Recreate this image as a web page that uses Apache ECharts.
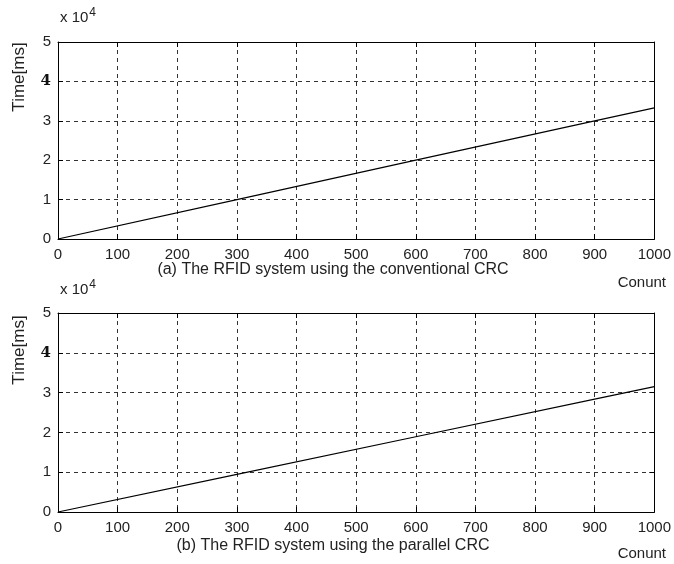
<!DOCTYPE html>
<html>
<head>
<meta charset="utf-8">
<script src="https://cdn.jsdelivr.net/npm/echarts@6/dist/echarts.min.js"></script>
<style>html,body{margin:0;padding:0;background:#fff;}#c{width:674px;height:564px;}</style>
</head>
<body>
<div id="c"></div>
<script>
var countA = [0, 300, 600, 900, 1000];
var timeA = [0, 10000, 20000, 30000, 33300];
var countB = [0, 300, 600, 900, 1000];
var timeB = [0, 9450, 18900, 28350, 31500];
var xTicks = [0, 100, 200, 300, 400, 500, 600, 700, 800, 900, 1000];
var yTicks = [0, 1, 2, 3, 4, 5];
var captionA = '(a) The RFID system using the conventional CRC';
var captionB = '(b) The RFID system using the parallel CRC';
var xName = 'Conunt';
var yName = 'Time[ms]';

var FONT = 'Liberation Sans, Arial, sans-serif';
var chart = echarts.init(document.getElementById('c'), null, {renderer: 'canvas'});

function xAx(gi, pos, labels) {
  return {
    gridIndex: gi, type: 'value', position: pos, min: 0, max: 1000, interval: 100,
    axisLine: {show: true, onZero: false, lineStyle: {color: '#000', width: 1}},
    axisTick: {show: true, inside: true, length: 5, lineStyle: {color: '#000'}},
    axisLabel: {show: labels, color: '#222', fontSize: 15, fontFamily: FONT, margin: 8,
      formatter: function (v) { return String(v); }},
    splitLine: {show: labels, lineStyle: {color: '#333', type: [4, 4], width: 1}}
  };
}
function yAx(gi, pos, labels) {
  return {
    gridIndex: gi, type: 'value', position: pos, min: 0, max: 50000, interval: 10000,
    axisLine: {show: true, onZero: false, lineStyle: {color: '#000', width: 1}},
    axisTick: {show: true, inside: true, length: 5, lineStyle: {color: '#000'}},
    axisLabel: {show: labels, color: '#222', fontSize: 15, fontFamily: FONT, margin: 7,
      formatter: function (v) { var t = Math.round(v / 10000); return t === 4 ? '{b|' + t + '}' : '' + t; },
      rich: {b: {fontWeight: 'bold', fontSize: 15, color: '#111', fontFamily: 'DejaVu Serif, serif'}}},
    splitLine: {show: labels, lineStyle: {color: '#333', type: [4, 4], width: 1}}
  };
}

function pairs(xs, ys) { return xs.map(function (x, i) { return [x, ys[i]]; }); }

function rotText(x, y, s) {
  return {type: 'text', x: x, y: y, rotation: Math.PI / 2,
    style: {text: s, fontSize: 17, fontFamily: FONT, fill: '#222', align: 'center', verticalAlign: 'middle'}};
}
function plainText(x, y, s, align, size) {
  return {type: 'text', x: x, y: y,
    style: {text: s, fontSize: size || 16, fontFamily: FONT, fill: '#222', align: align || 'center', verticalAlign: 'middle'}};
}
function expText(x, y) {
  return {type: 'text', x: x, y: y,
    style: {text: 'x 10{s|4}', fontSize: 15, fontFamily: FONT, fill: '#222', align: 'left', verticalAlign: 'middle',
      rich: {s: {fontSize: 12, fontFamily: FONT, fill: '#222', verticalAlign: 'top', padding: [0, 0, 10, 1]}}}};
}

var option = {
  backgroundColor: '#fff',
  animation: false,
  grid: [
    {left: 58, right: 18, top: 42, height: 197, show: false},
    {left: 58, right: 18, top: 313, height: 199, show: false}
  ],
  xAxis: [xAx(0, 'bottom', true), xAx(0, 'top', false), xAx(1, 'bottom', true), xAx(1, 'top', false)],
  yAxis: [yAx(0, 'left', true), yAx(0, 'right', false), yAx(1, 'left', true), yAx(1, 'right', false)],
  series: [
    {type: 'line', xAxisIndex: 0, yAxisIndex: 0, data: pairs(countA, timeA), showSymbol: false,
      lineStyle: {color: '#000', width: 1.2}},
    {type: 'line', xAxisIndex: 2, yAxisIndex: 2, data: pairs(countB, timeB), showSymbol: false,
      lineStyle: {color: '#000', width: 1.2}}
  ],
  graphic: [
    rotText(19, 77, yName),
    rotText(19, 350, yName),
    expText(60, 18),
    expText(60, 290),
    plainText(333, 270, captionA),
    plainText(666, 283, xName, 'right', 15),
    plainText(333, 546, captionB),
    plainText(666, 554, xName, 'right', 15)
  ]
};
chart.setOption(option);
</script>
</body>
</html>
